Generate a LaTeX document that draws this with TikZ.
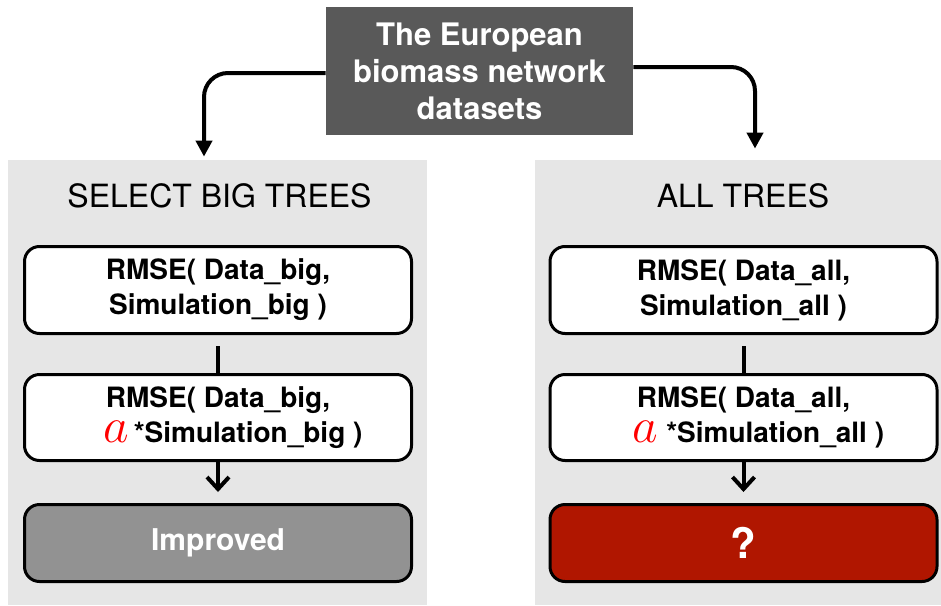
\documentclass[tikz,border=0pt]{standalone}
\usepackage{fontspec}
\setmainfont{TeX Gyre Heros}
\usetikzlibrary{arrows.meta}
\definecolor{topgray}{RGB}{89,89,89}
\definecolor{panelgray}{RGB}{230,230,230}
\definecolor{improvedgray}{RGB}{146,146,146}
\definecolor{resultred}{RGB}{176,22,0}

\begin{document}
\begin{tikzpicture}[x=0.5pt,y=-0.5pt,
  panel/.style={fill=panelgray,minimum width=#1,minimum height=222.5pt,inner sep=0pt},
  rmsebox/.style={draw,line width=1.5pt,rounded corners=7.5pt,fill=#1,
    minimum width=193.5pt,align=center,inner sep=0pt,
    font=\bfseries\fontsize{14}{17.5}\selectfont},
  heading/.style={anchor=base,font=\fontsize{16}{19}\selectfont},
  flow/.style={draw,line width=2pt,rounded corners=12pt,-{Triangle[length=8pt,width=8pt]}},
  link/.style={draw,line width=2pt}]
  \useasboundingbox (0,0) rectangle (941,605);

  \node[panel=209.5pt] (bigpanel) at (217.5,382.5) {};
  \node[panel=203pt] (allpanel) at (738,382.5) {};
  \node[fill=topgray,text=white,minimum width=153.5pt,minimum height=64pt,inner sep=0pt,
    align=center,font=\bfseries\fontsize{15.5}{18.5}\selectfont] (datasets) at (479.5,71)
    {The European\\biomass network\\datasets};

  \node[heading] (bighead) at (219.5,207) {SELECT BIG TREES};
  \node[heading] (allhead) at (743,207) {ALL TREES};

  \node[rmsebox=white,minimum height=43.5pt] (bigfirst) at (218,290)
    {RMSE( Data\_big,\\Simulation\_big )};
  \node[rmsebox=white,minimum height=43pt] (bigsecond) at (218,417.5)
    {RMSE( Data\_big,\\\hspace*{15pt}{\color{red}\fontsize{23}{23}\selectfont$a$}\,*Simulation\_big )};
  \node[rmsebox=improvedgray,minimum height=38.5pt,text=white,
    font=\bfseries\fontsize{15}{17.5}\selectfont] (bigresult) at (218,543)
    {Improved};

  \node[rmsebox=white,minimum height=43.5pt] (allfirst) at (743.5,290)
    {RMSE( Data\_all,\\Simulation\_all )};
  \node[rmsebox=white,minimum height=43pt] (allsecond) at (743.5,417.5)
    {RMSE( Data\_all,\\\hspace*{15pt}{\color{red}\fontsize{23}{23}\selectfont$a$} *Simulation\_all )};
  \node[rmsebox=resultred,minimum height=38.5pt,text=white,
    font=\bfseries\fontsize{21}{21}\selectfont] (allresult) at (743.5,543)
    {?};

  \draw[flow] ([yshift=-1pt]datasets.west) -| ([xshift=-6.75pt,yshift=1.5pt]bigpanel.north);
  \draw[flow] ([yshift=2pt]datasets.east) -| ([xshift=8.5pt,yshift=5.5pt]allpanel.north);

  \draw[link,shorten <=5.5pt] (bigfirst) -- (bigsecond);
  \draw[link,shorten >=5.5pt,-{Straight Barb[length=6pt,width=11pt]}] (bigsecond) -- (bigresult);
  \draw[link,shorten <=5.5pt] (allfirst) -- (allsecond);
  \draw[link,shorten >=5.5pt,-{Straight Barb[length=6pt,width=11pt]}] (allsecond) -- (allresult);
\end{tikzpicture}
\end{document}
